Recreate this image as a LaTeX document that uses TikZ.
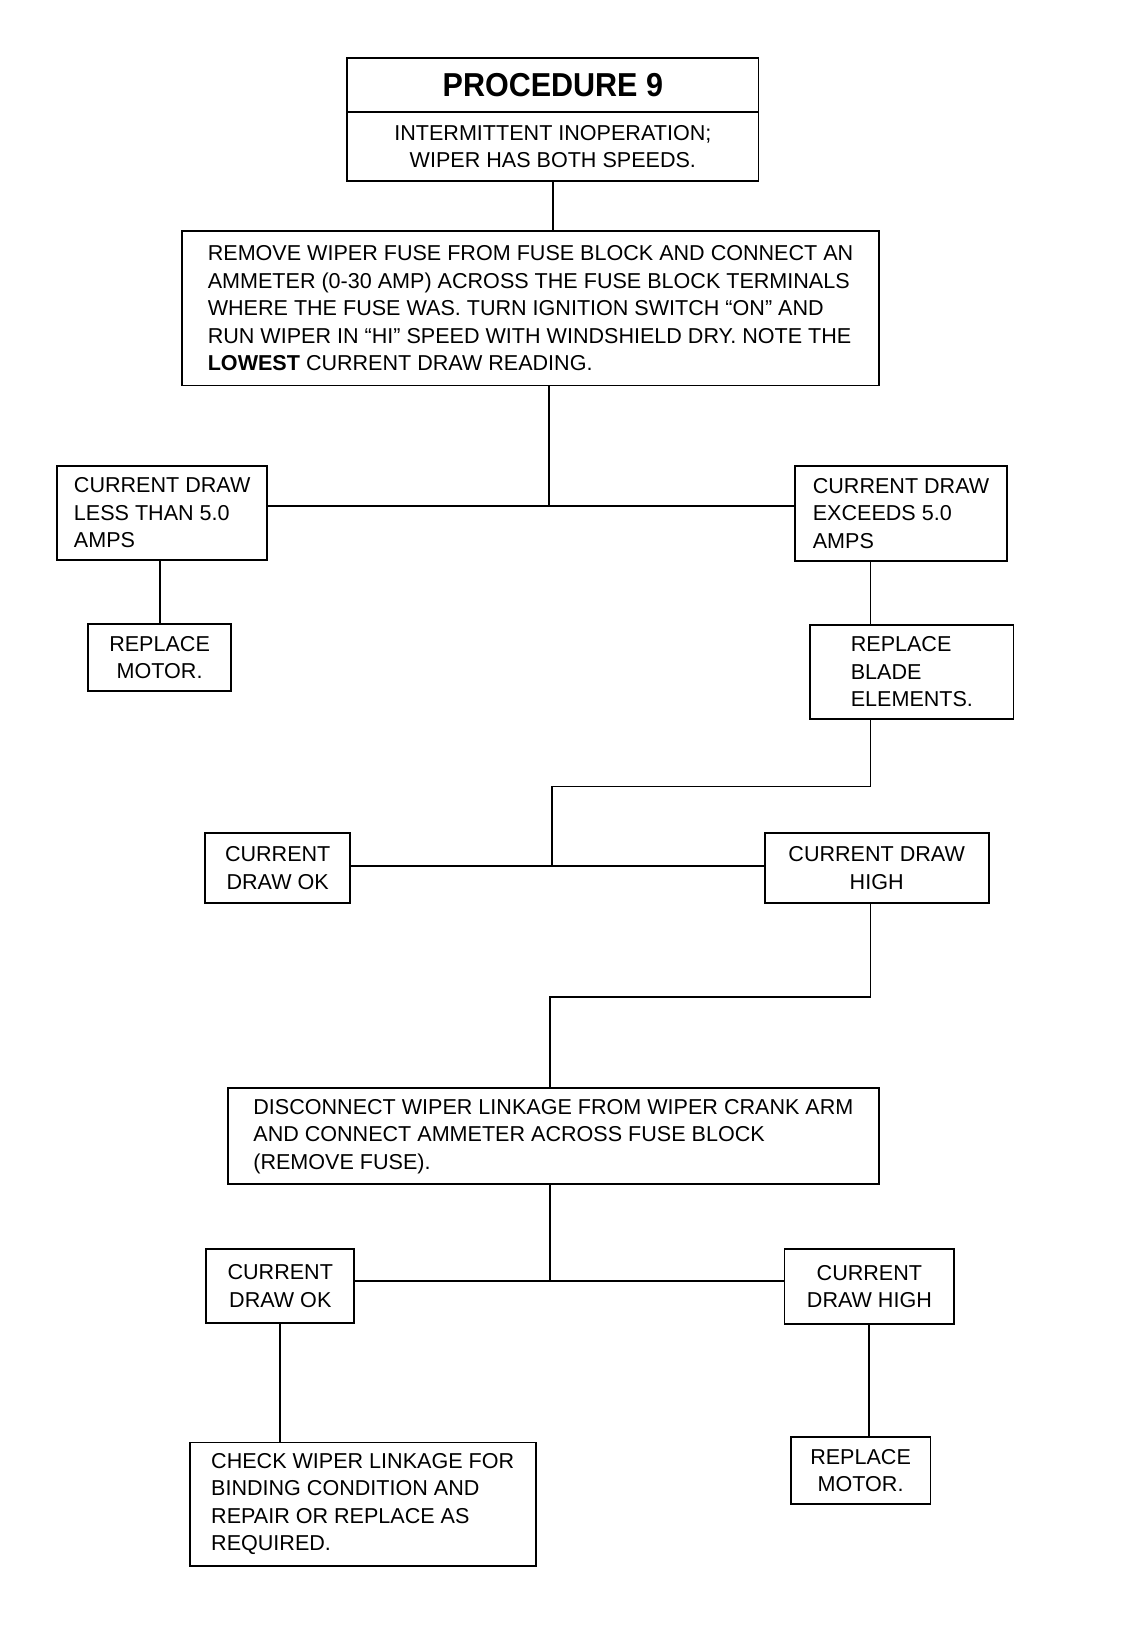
\documentclass[tikz,border=0pt]{standalone}
\usepackage{fontspec}
\setmainfont{Liberation Sans}
\newcommand{\stepfont}{\fontsize{10.4}{13.25}\selectfont}
\newcommand{\titlefont}{\fontsize{16}{18}\selectfont\bfseries\addfontfeature{FakeStretch=0.92}}
\tikzstyle{box}=[draw, line width=0.9pt, inner sep=0, outer sep=0, font=\stepfont]
\tikzstyle{lbox}=[box, align=left]
\tikzstyle{cbox}=[box, align=center]
\tikzstyle{wire}=[line width=0.9pt]
\tikzstyle{procedure}=[x=0.5pt, y=-0.5pt,
                       % Keep the page the size of the scanned sheet.
                       execute at begin picture={\useasboundingbox (0, 0) rectangle (1096, 1573);}]

\begin{document}
\begin{tikzpicture}[procedure]
        \node[cbox, minimum width=198.5pt, minimum height=26pt, font=\titlefont] (title) at (533.5, 82) {PROCEDURE 9};
        \node[cbox, minimum width=198.5pt, minimum height=33.5pt] (sub) at (533.5, 141.5) {INTERMITTENT INOPERATION;\\WIPER HAS BOTH SPEEDS.};
        \node[lbox, minimum width=336pt, minimum height=74.5pt] (remove) at (512, 297.5)
            {REMOVE WIPER FUSE FROM FUSE BLOCK AND CONNECT AN\\AMMETER (0-30 AMP) ACROSS THE FUSE BLOCK TERMINALS\\WHERE THE FUSE WAS. TURN IGNITION SWITCH ``ON'' AND\\RUN WIPER IN ``HI'' SPEED WITH WINDSHIELD DRY. NOTE THE\\\textbf{LOWEST} CURRENT DRAW READING.};
        \node[lbox, minimum width=101.5pt, minimum height=45pt] (less) at (156.5, 495) {CURRENT DRAW\\LESS THAN 5.0\\AMPS};
        \node[lbox, minimum width=102.5pt, minimum height=45.5pt] (more) at (869.5, 495.5) {CURRENT DRAW\\EXCEEDS 5.0\\AMPS};
        \node[cbox, minimum width=69pt, minimum height=32.5pt] (motorA) at (154, 634.5) {REPLACE\\MOTOR.};
        \node[lbox, minimum width=98pt, minimum height=45.5pt] (blade) at (880, 648.5) {REPLACE\\BLADE\\ELEMENTS.};
        \node[cbox, minimum width=70pt, minimum height=33.5pt] (okA) at (268, 837.5) {CURRENT\\DRAW OK};
        \node[cbox, minimum width=108pt, minimum height=33.5pt] (highA) at (846, 837.5) {CURRENT DRAW\\HIGH};
        \node[lbox, minimum width=314pt, minimum height=46.5pt] (linkage) at (534, 1096.5)
            {DISCONNECT WIPER LINKAGE FROM WIPER CRANK ARM\\AND CONNECT AMMETER ACROSS FUSE BLOCK\\(REMOVE FUSE).};
        \node[cbox, minimum width=71.5pt, minimum height=36pt] (okB) at (270.5, 1241) {CURRENT\\DRAW OK};
        \node[cbox, minimum width=82pt, minimum height=36.5pt] (highB) at (839, 1241.5) {CURRENT\\DRAW HIGH};
        \node[lbox, minimum width=167pt, minimum height=59.5pt] (check) at (350, 1451.5)
            {CHECK WIPER LINKAGE FOR\\BINDING CONDITION AND\\REPAIR OR REPLACE AS\\REQUIRED.};
        \node[cbox, minimum width=67.5pt, minimum height=32pt] (motorB) at (830.5, 1419) {REPLACE\\MOTOR.};
        % Junctions of the connecting lines.
        \coordinate (splitA) at (530, 488);
        \coordinate (bend) at (840, 759);
        \coordinate (splitB) at (533, 836);
        \coordinate (drop) at (531, 962);
        \coordinate (splitC) at (531, 1236);
        \draw[wire] (sub.south) -- (sub.south |- remove.north);
        \draw[wire] (splitA |- remove.south) -- (splitA);
        \draw[wire] (less.east |- splitA) -- (splitA -| more.west);
        \draw[wire] (motorA.north |- less.south) -- (motorA.north);
        \draw[wire] (bend |- more.south) -- (bend |- blade.north);
        \draw[wire] (bend |- blade.south) -- (bend) -| (splitB);
        \draw[wire] (okA.east |- splitB) -- (splitB -| highA.west);
        \draw[wire] (bend |- highA.south) |- (drop) -- (drop |- linkage.north);
        \draw[wire] (splitC |- linkage.south) -- (splitC);
        \draw[wire] (okB.east |- splitC) -- (splitC -| highB.west);
        \draw[wire] (okB.south) -- (okB.south |- check.north);
        \draw[wire] (highB.south) -- (highB.south |- motorB.north);
    \end{tikzpicture}
\end{document}
